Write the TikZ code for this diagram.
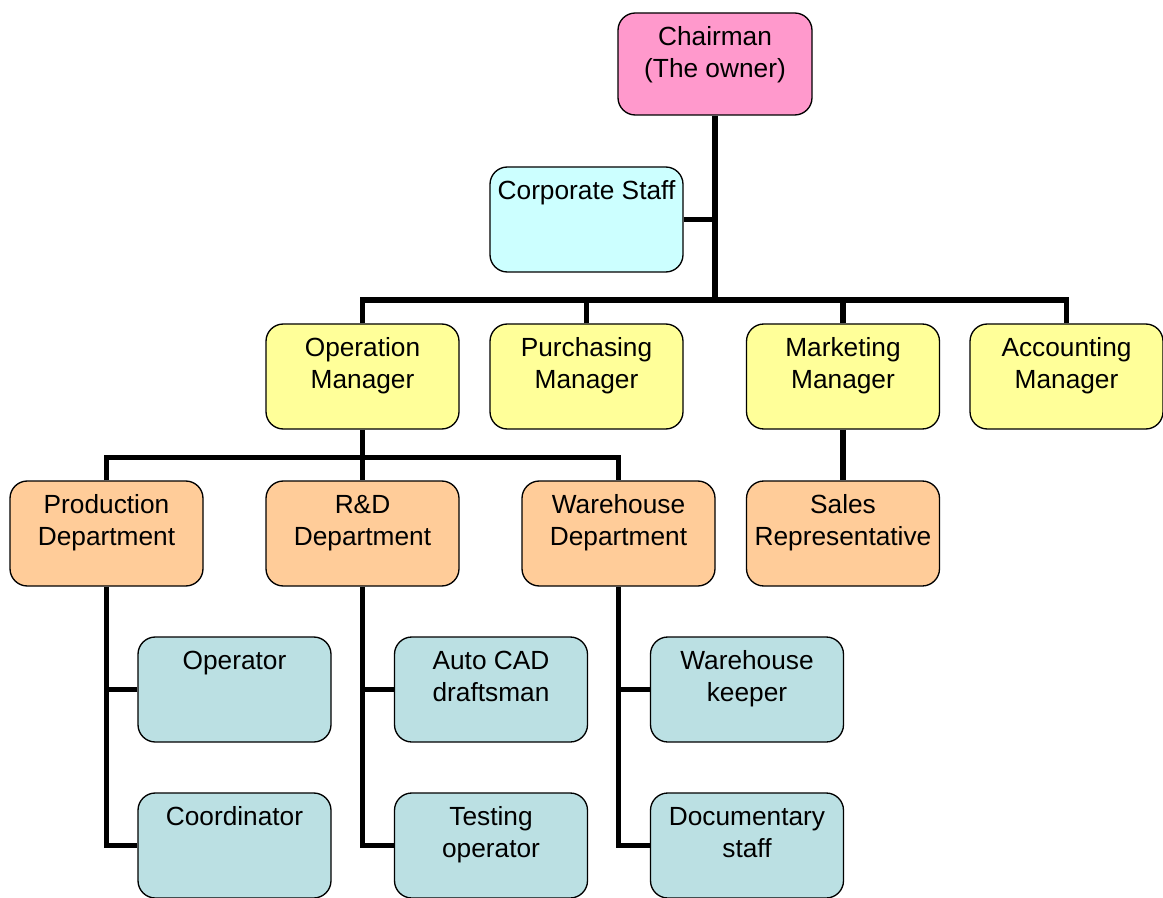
\documentclass[tikz,border=0pt]{standalone}
\usepackage{fontspec}
\setmainfont{Liberation Sans}
\usepackage{tikz}

\definecolor{chairpink}{HTML}{FF99CC}
\definecolor{staffcyan}{HTML}{CCFFFF}
\definecolor{mgryellow}{HTML}{FFFF99}
\definecolor{deptorange}{HTML}{FFCC99}
\definecolor{unitteal}{HTML}{BBE0E3}

\newcommand{\boxtxt}[2][78.75pt]{\parbox[t][#1][t]{140pt}{\centering\rule{0pt}{24.5pt}#2}}

\tikzset{
	orgbox/.style={draw, line width=1pt, rounded corners=13pt, inner sep=0pt,
		minimum width=144.75pt, font=\fontsize{19.7pt}{23.6pt}\selectfont},
	link/.style={line width=4pt, line join=miter}
}

\begin{document}
\begin{tikzpicture}[x=0.75pt, y=-0.75pt]
	\useasboundingbox (0,0) rectangle (1163,898);

	% top
	\node [orgbox, fill=chairpink, minimum width=145.5pt] (chair) at (715,64) {\boxtxt[76.5pt]{Chairman\\(The owner)}};
	\node [orgbox, fill=staffcyan] (staff) at (586.5,219.5) {\boxtxt{Corporate Staff}};

	% managers
	\node [orgbox, fill=mgryellow] (opm) at (362.5,376.5) {\boxtxt{Operation\\Manager}};
	\node [orgbox, fill=mgryellow] (pum) at (586.5,376.5) {\boxtxt{Purchasing\\Manager}};
	\node [orgbox, fill=mgryellow] (mkm) at (843,376.5) {\boxtxt{Marketing\\Manager}};
	\node [orgbox, fill=mgryellow] (acm) at (1066.5,376.5) {\boxtxt{Accounting\\Manager}};

	% departments
	\node [orgbox, fill=deptorange] (prd) at (106.5,533.5) {\boxtxt{Production\\Department}};
	\node [orgbox, fill=deptorange] (rnd) at (362.5,533.5) {\boxtxt{R\&D\\Department}};
	\node [orgbox, fill=deptorange] (whd) at (618.5,533.5) {\boxtxt{Warehouse\\Department}};
	\node [orgbox, fill=deptorange] (sal) at (843,533.5) {\boxtxt{Sales\\Representative}};

	% staff under departments
	\node [orgbox, fill=unitteal] (opr) at (234.5,689.5) {\boxtxt{Operator}};
	\node [orgbox, fill=unitteal] (crd) at (234.5,845.5) {\boxtxt{Coordinator}};
	\node [orgbox, fill=unitteal] (cad) at (491,689.5) {\boxtxt{Auto CAD\\draftsman}};
	\node [orgbox, fill=unitteal] (tst) at (491,845.5) {\boxtxt{Testing\\operator}};
	\node [orgbox, fill=unitteal] (whk) at (747,689.5) {\boxtxt{Warehouse\\keeper}};
	\node [orgbox, fill=unitteal] (doc) at (747,845.5) {\boxtxt{Documentary\\staff}};

	\coordinate (topbus) at (715,300);
	\coordinate (opbus) at (362.5,457.5);

	% connectors
	\draw [link] (chair.south) -- (topbus);
	\draw [link] (staff.east) -- (staff.east -| chair.south);
	\draw [link] (opm.north) -- (opm.north |- topbus) -- (acm.north |- topbus) -- (acm.north);
	\draw [link] (pum.north) -- (pum.north |- topbus);
	\draw [link] (mkm.north) -- (mkm.north |- topbus);
	\draw [link] (mkm.south) -- (sal.north);

	\draw [link] (opm.south) -- (rnd.north);
	\draw [link] (prd.north) -- (prd.north |- opbus) -- (whd.north |- opbus) -- (whd.north);

	\draw [link] (prd.south) -- (prd.south |- crd.west) -- (crd.west);
	\draw [link] (opr.west) -- (opr.west -| prd.south);
	\draw [link] (rnd.south) -- (rnd.south |- tst.west) -- (tst.west);
	\draw [link] (cad.west) -- (cad.west -| rnd.south);
	\draw [link] (whd.south) -- (whd.south |- doc.west) -- (doc.west);
	\draw [link] (whk.west) -- (whk.west -| whd.south);
\end{tikzpicture}
\end{document}
